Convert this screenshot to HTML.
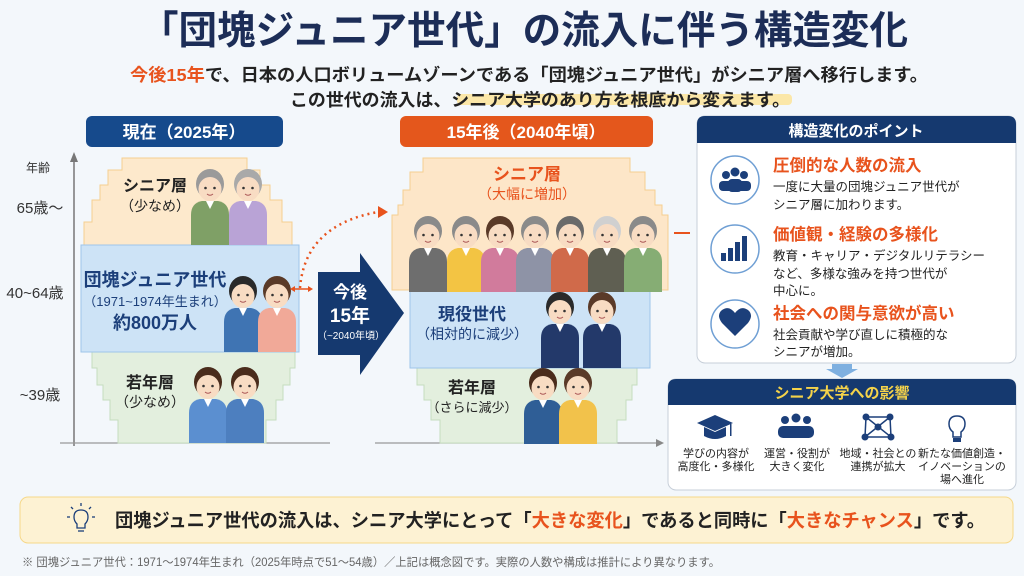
<!DOCTYPE html>
<html><head><meta charset="utf-8"><style>
html,body{margin:0;padding:0;background:#f3f7fb;}
svg{display:block;font-family:"Liberation Sans","Noto Sans CJK JP",sans-serif;}
</style></head><body>
<svg width="1024" height="576" viewBox="0 0 1024 576" xmlns="http://www.w3.org/2000/svg">
<defs>
<symbol id="hd" overflow="visible"><ellipse cx="0" cy="-1" rx="14" ry="15"/><ellipse cx="0" cy="4" rx="11.5" ry="12" fill="#f8dcc3"/><circle cx="-4.5" cy="3" r="1.3" fill="#333"/><circle cx="4.5" cy="3" r="1.3" fill="#333"/><path d="M-3 9 Q0 11.5 3 9" stroke="#a55" stroke-width="1" fill="none"/></symbol>
<symbol id="bd" overflow="visible"><path d="M-19 60 L-19 30 Q-19 18 -8 16 L8 16 Q19 18 19 30 L19 60 Z"/><path d="M-4 16 L0 24 L4 16" fill="#fff"/></symbol>
</defs>
<rect width="1024" height="576" fill="#f3f7fb"/>
<text x="524" y="44" text-anchor="middle" font-size="39" font-weight="bold" fill="#1c2d57" textLength="768" lengthAdjust="spacingAndGlyphs">「団塊ジュニア世代」の流入に伴う構造変化</text>
<text x="529" y="81" text-anchor="middle" font-size="17.5" font-weight="bold" fill="#222" textLength="798" lengthAdjust="spacingAndGlyphs"><tspan fill="#e8531d">今後15年</tspan>で、日本の人口ボリュームゾーンである「団塊ジュニア世代」がシニア層へ移行します。</text>
<rect x="457" y="94" width="335" height="11" rx="4" fill="#fbe7a8"/>
<text x="540" y="106" text-anchor="middle" font-size="17.5" font-weight="bold" fill="#222" textLength="500" lengthAdjust="spacingAndGlyphs">この世代の流入は、シニア大学のあり方を根底から変えます。</text>

<!-- left panel -->
<rect x="86" y="116" width="197" height="31" rx="6" fill="#164a8c"/>
<text x="184" y="138" text-anchor="middle" font-size="17" font-weight="bold" fill="#fff">現在（2025年）</text>
<text x="38" y="172" text-anchor="middle" font-size="12" fill="#333">年齢</text>
<text x="40" y="213" text-anchor="middle" font-size="15" fill="#333">65歳～</text>
<text x="35" y="298" text-anchor="middle" font-size="15" fill="#333">40~64歳</text>
<text x="40" y="400" text-anchor="middle" font-size="15" fill="#333">~39歳</text>
<line x1="74" y1="160" x2="74" y2="446" stroke="#777" stroke-width="1.5"/>
<path d="M70 162 L74 152 L78 162Z" fill="#777"/>
<line x1="60" y1="443" x2="330" y2="443" stroke="#999" stroke-width="1.2"/>
<polygon points="122,158 247,158 247,170 260,170 260,185 270,185 270,200 282,200 282,222 292,222 292,245 84,245 84,222 92,222 92,200 100,200 100,185 108,185 108,170 122,170" fill="#fde9cc" stroke="#f5cf90"/>
<polygon points="92,352 295,352 295,368 290,368 290,385 283,385 283,400 276,400 276,420 266,420 266,443 118,443 118,420 110,420 110,400 103,400 103,385 97,385 97,368 92,368" fill="#e3efde" stroke="#c6dcbf"/>
<rect x="81" y="245" width="218" height="107" fill="#cde3f6" stroke="#9ec5ea"/>
<text x="155" y="191" font-size="16" font-weight="bold" fill="#222" text-anchor="middle">シニア層</text>
<text x="155" y="211" font-size="14" fill="#222" text-anchor="middle">（少なめ）</text>
<text x="155" y="286" font-size="18" font-weight="bold" fill="#1c3f7a" text-anchor="middle">団塊ジュニア世代</text>
<text x="155" y="306" font-size="13" fill="#1c3f7a" text-anchor="middle">（1971~1974年生まれ）</text>
<text x="155" y="329" font-size="18" font-weight="bold" fill="#1c3f7a" text-anchor="middle">約800万人</text>
<text x="150" y="388" font-size="16" font-weight="bold" fill="#222" text-anchor="middle">若年層</text>
<text x="150" y="407" font-size="14" fill="#222" text-anchor="middle">（少なめ）</text>
<use href="#bd" x="210" y="185" fill="#7fa066"/><use href="#hd" x="210" y="185" fill="#9a9a9a"/>
<use href="#bd" x="248" y="185" fill="#b9a3d6"/><use href="#hd" x="248" y="185" fill="#a9a9a9"/>
<use href="#bd" x="243" y="292" fill="#3f74b3"/><use href="#hd" x="243" y="292" fill="#2a2a2a"/>
<use href="#bd" x="277" y="292" fill="#f1a998"/><use href="#hd" x="277" y="292" fill="#5a3a28"/>
<use href="#bd" x="208" y="383" fill="#5b8fd0"/><use href="#hd" x="208" y="383" fill="#4a2c1c"/>
<use href="#bd" x="245" y="383" fill="#4d7fbf"/><use href="#hd" x="245" y="383" fill="#4a2c1c"/>
<path d="M300 288 Q305 225 378 212" stroke="#e8531d" stroke-width="2.5" stroke-dasharray="2 4" fill="none"/>
<path d="M378 206 L388 212 L378 218Z" fill="#e8531d"/>
<line x1="292" y1="289" x2="311" y2="289" stroke="#e8531d" stroke-width="1.5"/>
<path d="M290 289 L295 286 L295 292Z M313 289 L308 286 L308 292Z" fill="#e8531d"/>
<path d="M318 272 L360 272 L360 253 L404 313 L360 375 L360 355 L318 355Z" fill="#15396f"/>
<text x="350" y="298" font-size="17" font-weight="bold" fill="#fff" text-anchor="middle">今後</text>
<text x="350" y="322" font-size="19" font-weight="bold" fill="#fff" text-anchor="middle">15年</text>
<text x="351" y="339" font-size="10" fill="#fff" text-anchor="middle">（~2040年頃）</text>

<!-- middle panel -->
<rect x="400" y="116" width="253" height="31" rx="6" fill="#e4571c"/>
<text x="526" y="138" text-anchor="middle" font-size="17" font-weight="bold" fill="#fff">15年後（2040年頃）</text>
<line x1="375" y1="443" x2="660" y2="443" stroke="#999" stroke-width="1.2"/>
<path d="M656 439 L664 443 L656 447Z" fill="#888"/>
<polygon points="423,158 630,158 630,172 645,172 645,190 655,190 655,205 662,205 662,215 668,215 668,290 392,290 392,215 398,215 398,205 403,205 403,190 410,190 410,172 423,172" fill="#fde6c8" stroke="#f5cf90"/>
<polygon points="417,368 637,368 637,385 632,385 632,400 626,400 626,420 617,420 617,443 440,443 440,420 431,420 431,400 424,400 424,385 417,385" fill="#e3efde" stroke="#c6dcbf"/>
<rect x="410" y="290" width="240" height="78" fill="#cde3f6" stroke="#9ec5ea"/>
<text x="527" y="180" font-size="17" font-weight="bold" fill="#e8531d" text-anchor="middle">シニア層</text>
<text x="527" y="199" font-size="14" fill="#e8531d" text-anchor="middle">（大幅に増加）</text>
<use href="#bd" x="428" y="232" fill="#6e6e6e"/><use href="#hd" x="428" y="232" fill="#8a8a8a"/>
<use href="#bd" x="466" y="232" fill="#f3c443"/><use href="#hd" x="466" y="232" fill="#8a8a8a"/>
<use href="#bd" x="500" y="232" fill="#d17b9c"/><use href="#hd" x="500" y="232" fill="#5a3a28"/>
<use href="#bd" x="535" y="232" fill="#8e93a6"/><use href="#hd" x="535" y="232" fill="#8a8a8a"/>
<use href="#bd" x="570" y="232" fill="#d06a4a"/><use href="#hd" x="570" y="232" fill="#6a6a6a"/>
<use href="#bd" x="607" y="232" fill="#5f5f52"/><use href="#hd" x="607" y="232" fill="#d0d0d0"/>
<use href="#bd" x="643" y="232" fill="#86ad74"/><use href="#hd" x="643" y="232" fill="#8a8a8a"/>
<text x="472" y="320" font-size="17" font-weight="bold" fill="#1c3f7a" text-anchor="middle">現役世代</text>
<text x="472" y="339" font-size="14" fill="#1c3f7a" text-anchor="middle">（相対的に減少）</text>
<use href="#bd" x="560" y="308" fill="#23396a"/><use href="#hd" x="560" y="308" fill="#2a2a2a"/>
<use href="#bd" x="602" y="308" fill="#23396a"/><use href="#hd" x="602" y="308" fill="#5a3a28"/>
<text x="472" y="393" font-size="16" font-weight="bold" fill="#222" text-anchor="middle">若年層</text>
<text x="472" y="412" font-size="13" fill="#222" text-anchor="middle">（さらに減少）</text>
<use href="#bd" x="543" y="384" fill="#2f5e96"/><use href="#hd" x="543" y="384" fill="#4a2c1c"/>
<use href="#bd" x="578" y="384" fill="#f2c24b"/><use href="#hd" x="578" y="384" fill="#5a3a28"/>
<line x1="674" y1="233" x2="690" y2="233" stroke="#e8531d" stroke-width="2"/>

<!-- right: points -->
<rect x="697" y="116" width="319" height="247" rx="8" fill="#fff" stroke="#c7cfd9"/>
<path d="M697 143 L697 124 Q697 116 705 116 L1008 116 Q1016 116 1016 124 L1016 143Z" fill="#15396f"/>
<text x="856" y="136" text-anchor="middle" font-size="15" font-weight="bold" fill="#fff">構造変化のポイント</text>
<circle cx="735" cy="180" r="24" fill="#fff" stroke="#6f9fd4" stroke-width="1.5"/>
<g fill="#1c3f7a"><circle cx="726" cy="175" r="4"/><circle cx="735" cy="172" r="4.5"/><circle cx="744" cy="175" r="4"/><rect x="719" y="181" width="14" height="10" rx="4"/><rect x="737" y="181" width="14" height="10" rx="4"/><rect x="728" y="179" width="14" height="13" rx="4"/></g>
<circle cx="735" cy="249" r="24" fill="#fff" stroke="#6f9fd4" stroke-width="1.5"/>
<g fill="#1c3f7a"><rect x="721" y="253" width="5" height="8"/><rect x="728" y="248" width="5" height="13"/><rect x="735" y="242" width="5" height="19"/><rect x="742" y="236" width="5" height="25"/></g>
<circle cx="735" cy="324" r="24" fill="#fff" stroke="#6f9fd4" stroke-width="1.5"/>
<path d="M735 336 L722 323 Q716 315 722 310 Q729 305 735 313 Q741 305 748 310 Q754 315 748 323Z" fill="#1c3f7a"/>
<g font-size="16.5" font-weight="bold" fill="#e8531d"><text x="773" y="171">圧倒的な人数の流入</text><text x="773" y="240">価値観・経験の多様化</text><text x="773" y="319">社会への関与意欲が高い</text></g>
<g font-size="12.5" fill="#222"><text x="773" y="191">一度に大量の団塊ジュニア世代が</text><text x="773" y="209">シニア層に加わります。</text>
<text x="773" y="260">教育・キャリア・デジタルリテラシー</text><text x="773" y="278">など、多様な強みを持つ世代が</text><text x="773" y="295">中心に。</text>
<text x="773" y="339">社会貢献や学び直しに積極的な</text><text x="773" y="356">シニアが増加。</text></g>
<path d="M832 364 L852 364 L852 369 L858 369 L842 378 L826 369 L832 369Z" fill="#7fb0e0"/>

<!-- right: impact -->
<rect x="668" y="379" width="348" height="111" rx="8" fill="#fff" stroke="#c7cfd9"/>
<path d="M668 405 L668 387 Q668 379 676 379 L1008 379 Q1016 379 1016 387 L1016 405Z" fill="#15396f"/>
<text x="842" y="398" text-anchor="middle" font-size="15" font-weight="bold" fill="#f5d34a">シニア大学への影響</text>
<g fill="#1c3f7a">
<path d="M697 423 L715 415 L733 423 L715 431Z"/><path d="M704 427 L704 436 Q715 442 726 436 L726 427 L715 432Z"/><rect x="730" y="424" width="1.5" height="12"/>
<circle cx="785" cy="420" r="4"/><circle cx="796" cy="418" r="4.5"/><circle cx="807" cy="420" r="4"/><rect x="778" y="426" width="36" height="12" rx="5"/>
<circle cx="866" cy="417" r="3.5"/><circle cx="890" cy="417" r="3.5"/><circle cx="878" cy="427" r="3.5"/><circle cx="865" cy="437" r="3.5"/><circle cx="891" cy="437" r="3.5"/>
<path d="M866 417 L890 417 L891 437 L865 437Z M866 417 L891 437 M890 417 L865 437" stroke="#1c3f7a" stroke-width="1.5" fill="none"/>
<path d="M957 416 Q949 416 949 424 Q949 429 953 432 L953 437 L961 437 L961 432 Q965 429 965 424 Q965 416 957 416Z" fill="none" stroke="#1c3f7a" stroke-width="1.5"/><rect x="953" y="438" width="8" height="4"/>
</g>
<g font-size="11" fill="#222" text-anchor="middle">
<text x="716" y="457">学びの内容が</text><text x="716" y="470">高度化・多様化</text>
<text x="797" y="457">運営・役割が</text><text x="797" y="470">大きく変化</text>
<text x="878" y="457">地域・社会との</text><text x="878" y="470">連携が拡大</text>
<text x="962" y="457">新たな価値創造・</text><text x="962" y="470">イノベーションの</text><text x="962" y="483">場へ進化</text>
</g>

<!-- bottom banner -->
<rect x="20" y="497" width="993" height="46" rx="8" fill="#fdf2d3" stroke="#f6d889"/>
<g stroke="#1c3f7a" stroke-width="1.3" fill="none"><path d="M81 510 Q74 510 74 517 Q74 521 77 524 L77 528 L85 528 L85 524 Q88 521 88 517 Q88 510 81 510Z"/><line x1="78" y1="531" x2="84" y2="531"/><line x1="81" y1="503" x2="81" y2="506"/><line x1="71" y1="507" x2="73" y2="509"/><line x1="91" y1="507" x2="89" y2="509"/><line x1="67" y1="517" x2="70" y2="517"/><line x1="92" y1="517" x2="95" y2="517"/></g>
<text x="115" y="527" font-size="18.5" font-weight="bold" fill="#222" textLength="870" lengthAdjust="spacingAndGlyphs">団塊ジュニア世代の流入は、シニア大学にとって「<tspan fill="#e8531d">大きな変化</tspan>」であると同時に「<tspan fill="#e8531d">大きなチャンス</tspan>」です。</text>
<text x="22" y="566" font-size="11.5" fill="#666" textLength="698" lengthAdjust="spacingAndGlyphs">※ 団塊ジュニア世代：1971～1974年生まれ（2025年時点で51～54歳）／上記は概念図です。実際の人数や構成は推計により異なります。</text>
</svg>
</body></html>
